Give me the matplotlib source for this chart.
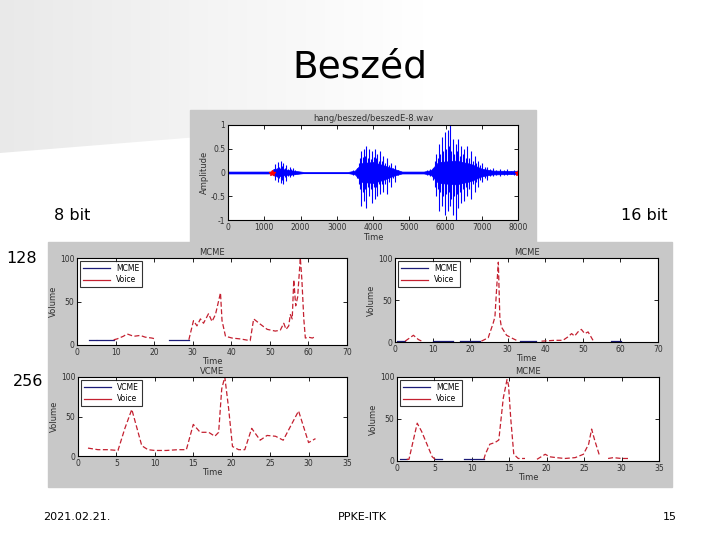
import numpy as np
import matplotlib
matplotlib.use("Agg")
import matplotlib.pyplot as plt
from matplotlib.patches import Rectangle, Polygon

nan = np.nan
W, H = 720, 540

# ---- waveform (hang/beszed/beszedE-8.wav) ----
env_t = [0, 1200, 1250, 1400, 1600, 1800, 2000, 2100, 3300, 3500, 3700, 4000, 4300, 4600, 4800,
         5400, 5600, 5800, 6300, 6700, 7000, 7300, 8000]
env_up = [0.02, 0.02, 0.07, 0.09, 0.06, 0.04, 0.02, 0.01, 0.01, 0.04, 0.20, 0.22, 0.15, 0.07, 0.02,
          0.02, 0.05, 0.22, 0.25, 0.18, 0.08, 0.04, 0.03]
env_lo = [-0.02, -0.02, -0.06, -0.08, -0.05, -0.04, -0.02, -0.01, -0.01, -0.04, -0.20, -0.22, -0.15, -0.06, -0.02,
          -0.02, -0.05, -0.22, -0.25, -0.18, -0.08, -0.04, -0.03]
spike_t = [1260, 1300, 1340, 1380, 1420, 1450, 1490, 1520, 1560, 1600, 1650, 1700, 1740, 1780, 1850,
           3450, 3550, 3600, 3640, 3680, 3715, 3750, 3785, 3820, 3860, 3900, 3940, 3980, 4015, 4050,
           4085, 4120, 4160, 4200, 4240, 4280, 4330, 4380, 4440, 4500, 4550, 4600, 4680,
           5500, 5580, 5650, 5700, 5750, 5785, 5820, 5860, 5900, 5940, 5980, 6020, 6060, 6090, 6120,
           6160, 6200, 6240, 6280, 6315, 6350, 6390, 6430, 6475, 6520, 6560, 6600, 6650, 6700,
           6750, 6800, 6850, 6900, 6950, 7000, 7080, 7150, 7230, 7300, 7400, 7500, 7600, 7700,
           7800, 7900]
spike_up = [0.08, 0.18, 0.10, 0.22, 0.12, 0.25, 0.14, 0.20, 0.10, 0.15, 0.08, 0.12, 0.07, 0.10, 0.05,
            0.05, 0.10, 0.20, 0.30, 0.45, 0.32, 0.50, 0.35, 0.55, 0.30, 0.50, 0.28, 0.45, 0.33, 0.50,
            0.30, 0.40, 0.25, 0.45, 0.25, 0.35, 0.20, 0.30, 0.15, 0.20, 0.10, 0.15, 0.06,
            0.05, 0.08, 0.10, 0.25, 0.40, 0.30, 0.60, 0.40, 0.75, 0.45, 0.85, 0.50, 0.90, 0.55, 1.00,
            0.45, 0.70, 0.40, 0.60, 0.45, 0.70, 0.35, 0.55, 0.40, 0.50, 0.30, 0.55, 0.30, 0.45,
            0.25, 0.35, 0.20, 0.25, 0.15, 0.20, 0.12, 0.12, 0.08, 0.10, 0.06, 0.08, 0.05, 0.07,
            0.04, 0.05]
spike_lo = [-0.06, -0.15, -0.10, -0.20, -0.12, -0.22, -0.15, -0.25, -0.10, -0.18, -0.08, -0.10, -0.06, -0.08, -0.04,
            -0.05, -0.12, -0.25, -0.35, -0.70, -0.40, -0.60, -0.35, -0.75, -0.30, -0.50, -0.35, -0.65, -0.30, -0.55,
            -0.30, -0.50, -0.25, -0.45, -0.25, -0.40, -0.25, -0.45, -0.20, -0.30, -0.12, -0.20, -0.06,
            -0.05, -0.08, -0.15, -0.30, -0.50, -0.35, -0.80, -0.40, -0.70, -0.50, -0.90, -0.45, -0.80, -0.40, -0.70,
            -0.55, -0.90, -0.50, -1.00, -0.45, -0.75, -0.40, -0.65, -0.35, -0.60, -0.30, -0.50, -0.35, -0.55,
            -0.25, -0.40, -0.20, -0.30, -0.15, -0.20, -0.12, -0.15, -0.08, -0.08, -0.06, -0.08, -0.05, -0.06,
            -0.04, -0.05]
mark_t = [1200, 8000]
mark_v = [0, 0]

# ---- 8 bit, 128 ----
tl_mcme_t = [3, 4.8, nan, 5.2, 9.5, nan, 23.9, 29]
tl_mcme_v = [6, 6, nan, 6, 6, nan, 6, 6]
tl_voice_t = [9.5, 10.4, 12, 13, 14.7, 16.4, 17.7, 19.4, 20.3, nan,
              29, 30.2, 31.1, 32, 32.8, 34.1, 35, 35.9, 37.2, 37.6, 38.5, 40.2, 42.3, 43.6, 44.9,
              45.8, 47.5, 49.3, 51.4, 52.7, 53.6, 54.2, 54.9, 55.3, 55.8, 56.2, 56.7, 57.2, 57.9,
              58.3, 58.8, 59.2, 60, 61, 62]
tl_voice_v = [6, 7, 10, 12.7, 10, 11, 9, 8, 7, nan,
              6, 28, 22, 30, 25, 36, 27, 35, 60, 28, 10, 8, 7, 6, 5,
              30, 24, 18, 16, 17, 25, 18, 22, 35, 30, 75, 45, 55, 100,
              75, 30, 8, 9, 8, 10]

# ---- 16 bit, 128 ----
tr_mcme_t = [0.4, 2.7, nan, 10.2, 15.5, nan, 17.3, 22.6, nan, 33.2, 37.6, nan, 57.6, 60.2]
tr_mcme_v = [1, 1, nan, 1, 1, nan, 1, 1, nan, 1, 1, nan, 1, 1]
tr_voice_t = [2.7, 4.9, 6.2, 7.1, nan, 23, 24.8, 26.1, 26.6, 27, 27.5, 27.9, 28.3, 29.7, 31.4, 32.8, nan,
              39, 42.5, 44.7, 46, 47, 47.8, 48.7, 49.6, 50.5, 51.4, 52.7]
tr_voice_v = [1, 8, 3, 1, nan, 1, 5, 22, 30, 60, 95, 30, 18, 8, 4, 1, nan,
              1, 2, 2, 6, 10, 7, 12, 15, 10, 12, 2]

# ---- 8 bit, 256 ----
bl_voice_t = [1.3, 2.6, 3.9, 5.2, 6.1, 7.0, 8.3, 9.1, 10, 11.5, 13, 14.1, 15, 15.9, 17, 17.8, 18.3,
              18.7, 19.1, 19.6, 20.1, 20.9, 21.7, 22.6, 23.7, 24.6, 25.7, 26.7, 28.7, 30, 30.9]
bl_voice_v = [10, 8, 8, 7, 35, 59, 13, 8, 7, 7, 8, 8, 40, 30, 30, 25, 30,
              85, 100, 60, 12, 8, 8, 35, 20, 26, 25, 20, 57, 17, 22]

# ---- 16 bit, 256 ----
br_mcme_t = [0.4, 1.3, nan, 5.1, 6, nan, 8.9, 11.6]
br_mcme_v = [2, 2, nan, 2, 2, nan, 2, 2]
br_voice_t = [1.3, 1.6, 2.7, 3.3, 4, 4.7, 5.1, nan, 11.6, 11.8, 12.4, 13.1, 13.6, 14.2, 14.7, 14.9,
              15.2, 15.6, 16.2, 17.1, nan, 18.7, 19.8, 20.4, 21.3, 22.4, 23.8, 24.9, 25.6, 26, 26.4,
              27.1, nan, 28.2, 28.9, 30, 30.9]
br_voice_v = [2, 2, 45, 35, 20, 5, 2, nan, 2, 8, 20, 22, 25, 75, 97, 90,
              50, 8, 3, 3, nan, 2, 8, 5, 4, 3, 4, 8, 20, 38, 25,
              5, nan, 3, 4, 3, 3]

NAVY = "#1c1c78"
RED = "#c42030"
PANEL = "#c8c8c8"
TXT = "#303030"

fig = plt.figure(figsize=(7.2, 5.4), dpi=100)

# slide background
bg = fig.add_axes([0, 0, 1, 1])
bg.set_xlim(0, W)
bg.set_ylim(H, 0)
bg.axis("off")
grad = np.clip(np.linspace(0.915, 1.06, 256), 0, 1)[None, :]
im = bg.imshow(np.dstack([grad, grad, grad]), extent=[0, W, 160, 0], aspect="auto", zorder=0)
clip = Polygon([(0, 0), (W, 0), (W, 95), (0, 153)], closed=True, transform=bg.transData)
im.set_clip_path(clip)
bg.add_patch(Rectangle((190, 110), 346, 133, color=PANEL, zorder=1))
bg.add_patch(Rectangle((48, 242), 624, 245, color=PANEL, zorder=1))


def px_axes(x0, y0, x1, y1):
    return fig.add_axes([x0 / W, 1 - y1 / H, (x1 - x0) / W, (y1 - y0) / H])


def matlab_style(ax):
    ax.set_facecolor("white")
    for s in ax.spines.values():
        s.set_linewidth(0.8)
        s.set_color("black")
    ax.tick_params(direction="in", top=True, right=True, length=3, width=0.6,
                   labelsize=5.5, labelcolor=TXT, pad=2)


# main waveform
ax = px_axes(228, 125, 518, 220)
matlab_style(ax)
ax.fill_between(env_t, env_lo, env_up, color="#0000ff", lw=0.5)
ax.vlines(spike_t, spike_lo, spike_up, color="#0000ff", lw=0.8)
ax.plot(env_t, np.zeros(len(env_t)), color="#0000ff", lw=0.8)
ax.plot(mark_t, mark_v, "*", color="red", ms=4)
ax.set_xlim(0, 8000)
ax.set_ylim(-1, 1)
ax.set_xticks(range(0, 8001, 1000))
ax.set_yticks([-1, -0.5, 0, 0.5, 1])
ax.set_yticklabels(["-1", "-0.5", "0", "0.5", "1"])
ax.set_title("hang/beszed/beszedE-8.wav", fontsize=6, color=TXT, pad=3)
ax.set_xlabel("Time", fontsize=6, color=TXT, labelpad=1)
ax.set_ylabel("Amplitude", fontsize=6, color=TXT, labelpad=1)

panels = [
    ((77, 258, 347, 345), 70, "MCME", tl_mcme_t, tl_mcme_v, tl_voice_t, tl_voice_v),
    ((395, 258, 658, 342), 70, "MCME", tr_mcme_t, tr_mcme_v, tr_voice_t, tr_voice_v),
    ((78, 377, 347, 456), 35, "VCME", [], [], bl_voice_t, bl_voice_v),
    ((397, 377, 659, 461), 35, "MCME", br_mcme_t, br_mcme_v, br_voice_t, br_voice_v),
]
for box, xmax, name, mt, mv, vt, vv in panels:
    ax = px_axes(*box)
    matlab_style(ax)
    ax.plot(mt, mv, color=NAVY, lw=0.9, label=name)
    ax.plot(vt, vv, color=RED, lw=0.9, dashes=(4, 2), label="Voice")
    ax.set_xlim(0, xmax)
    ax.set_ylim(0, 100)
    ax.set_xticks(range(0, xmax + 1, 10 if xmax == 70 else 5))
    ax.set_yticks([0, 50, 100])
    ax.set_title(name, fontsize=6, color=TXT, pad=2)
    ax.set_xlabel("Time", fontsize=6, color=TXT, labelpad=0)
    ax.set_ylabel("Volume", fontsize=6, color=TXT, labelpad=1)
    leg = ax.legend(loc="upper left", fontsize=5.5, frameon=True, fancybox=False,
                    borderpad=0.4, handlelength=3.5, labelspacing=0.3, borderaxespad=0.4)
    leg.get_frame().set_edgecolor("black")
    leg.get_frame().set_linewidth(0.8)
    for lh in leg.get_lines():
        lh.set_linestyle("-")

# slide texts
def ftext(x, y, s, **kw):
    fig.text(x / W, 1 - y / H, s, ha="center", va="center", **kw)

ftext(360, 68, "Beszéd", fontsize=27, color="black")
ftext(72, 216, "8 bit", fontsize=11.5, color="black")
ftext(644, 216, "16 bit", fontsize=11.5, color="black")
ftext(22, 258, "128", fontsize=11.5, color="black")
ftext(28, 381, "256", fontsize=11.5, color="black")
ftext(77, 517, "2021.02.21.", fontsize=8, color="black")
ftext(362, 517, "PPKE-ITK", fontsize=8, color="black")
ftext(670, 517, "15", fontsize=8, color="black")

fig.savefig("out.png", dpi=100)
